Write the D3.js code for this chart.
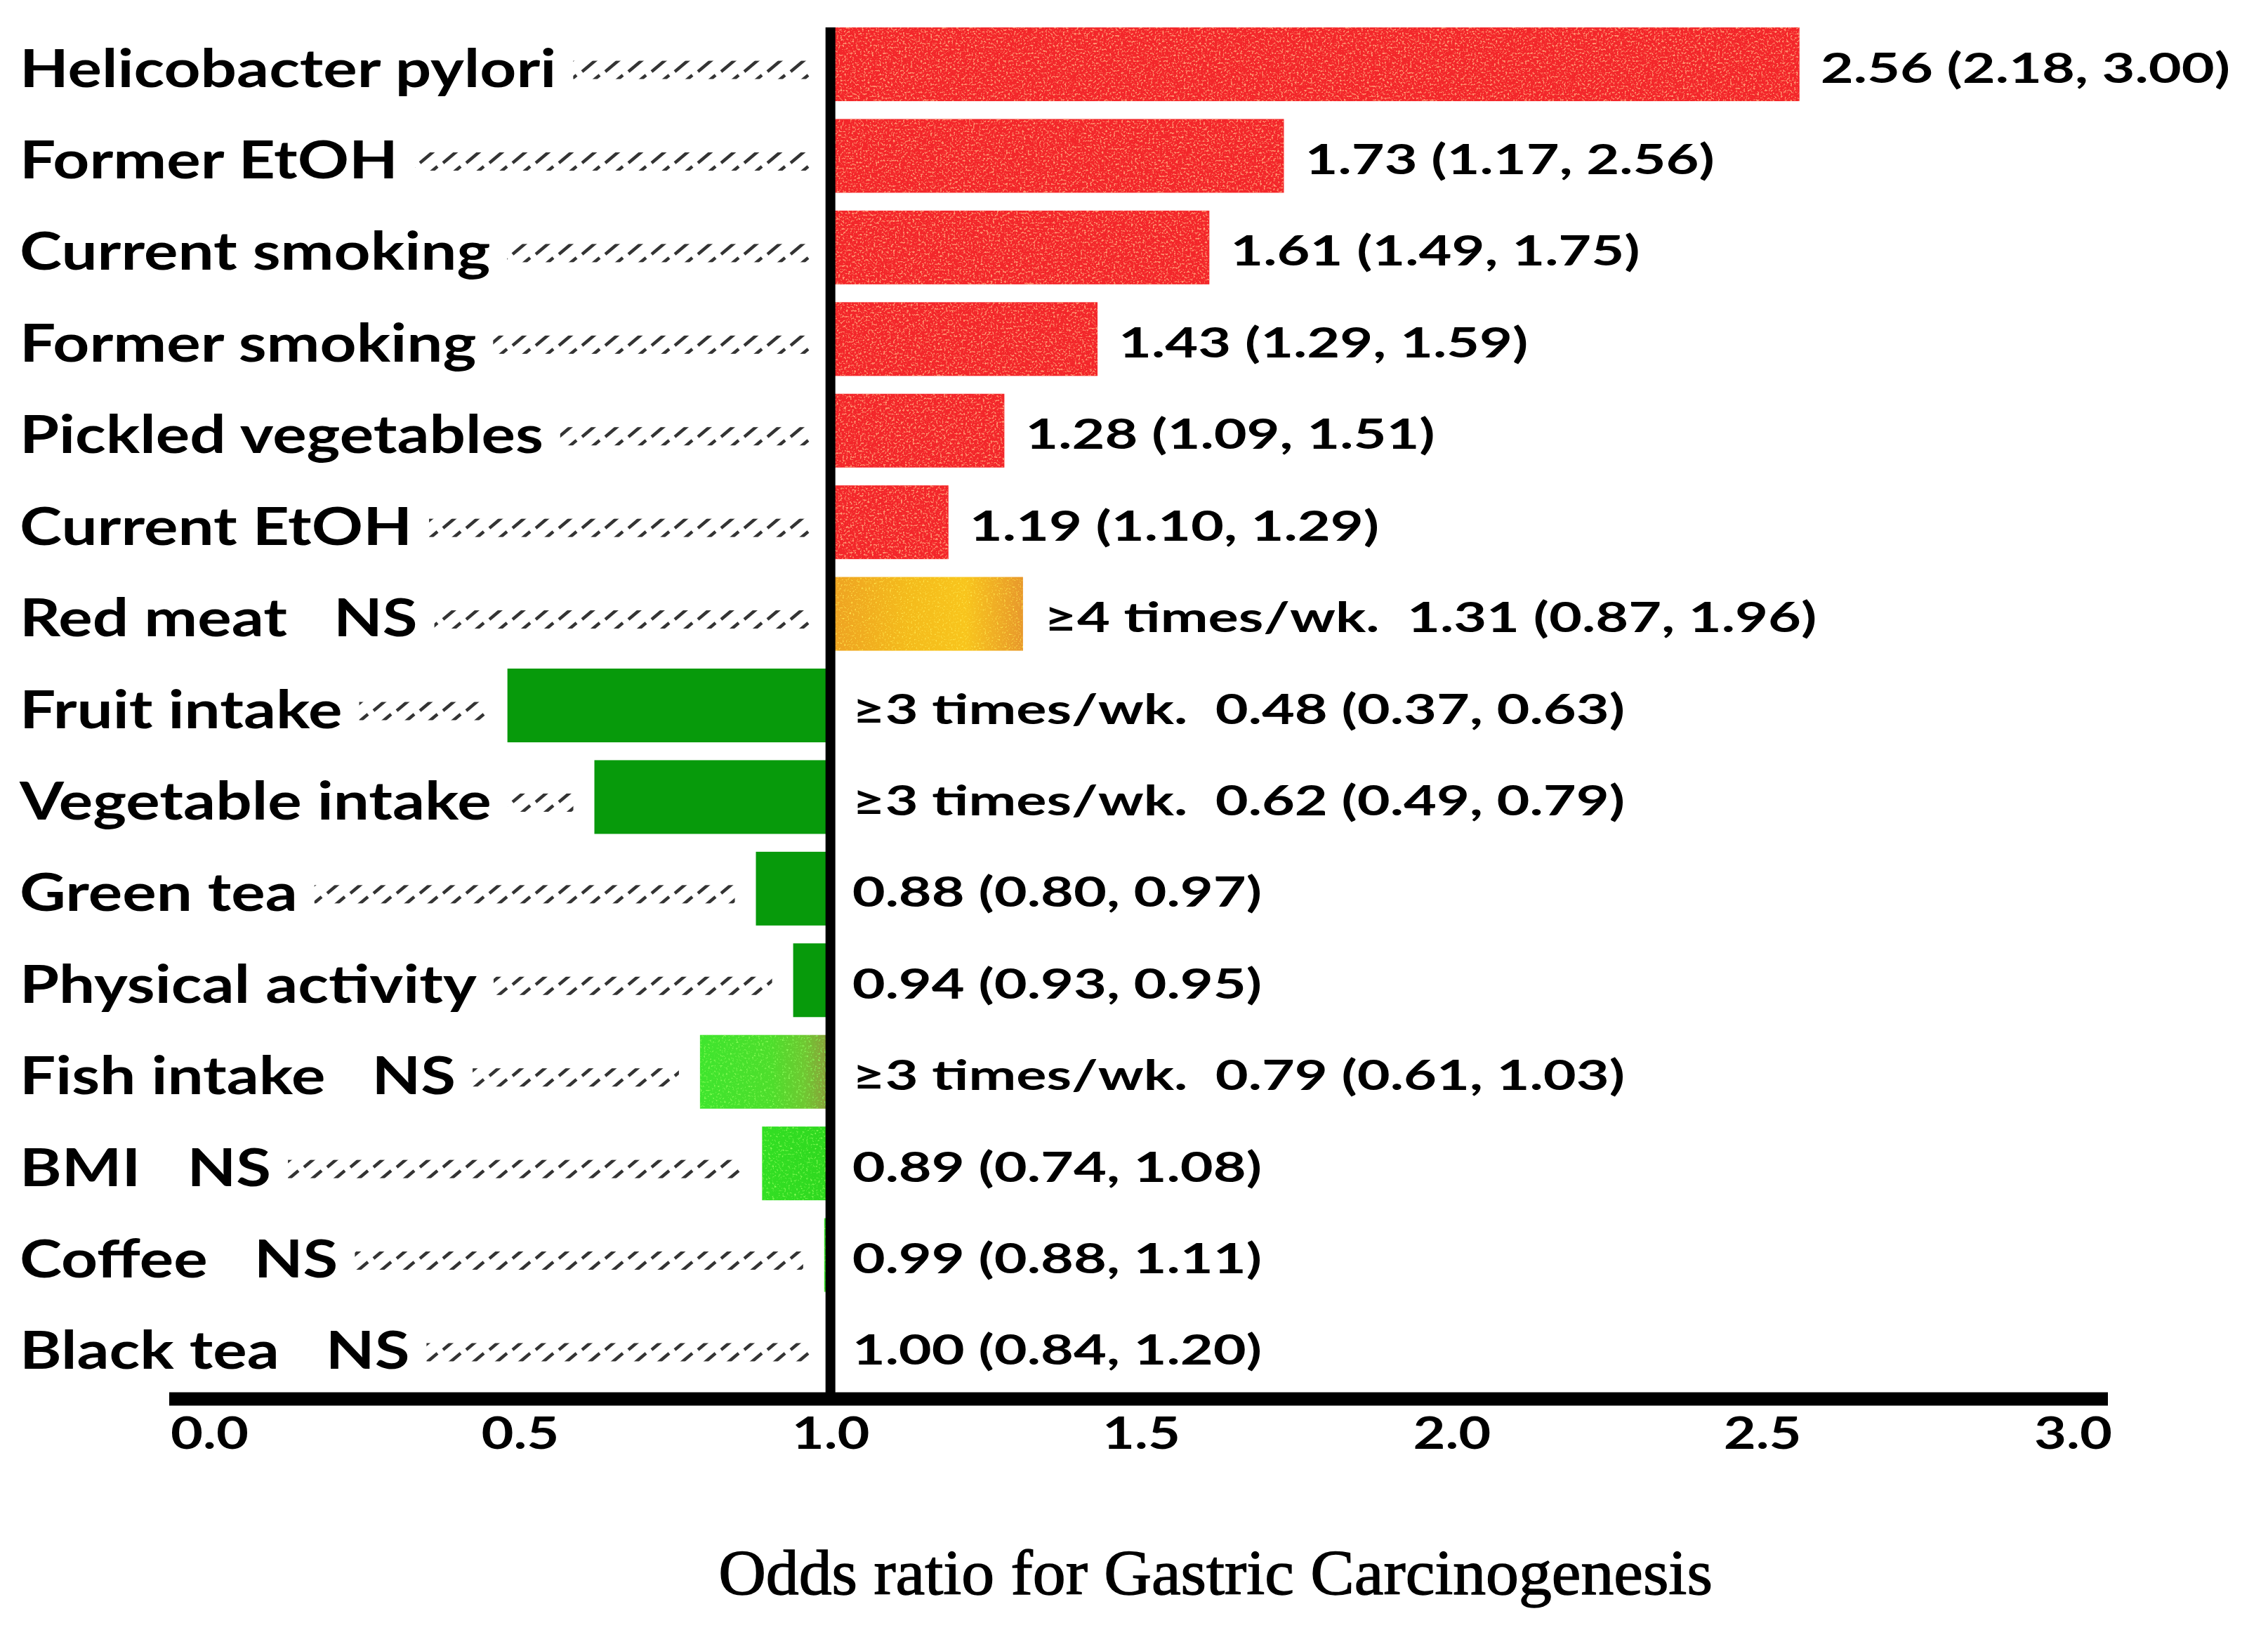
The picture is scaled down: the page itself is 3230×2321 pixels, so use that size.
<!DOCTYPE html>
<html><head><meta charset="utf-8">
<script src="https://cdn.jsdelivr.net/npm/d3@7"></script>
<style>html,body{margin:0;padding:0;background:#fff;} svg{display:block}</style>
</head><body>
<svg id="chart" width="3230" height="2321"></svg>
<script>
const categories = ["Helicobacter pylori","Former EtOH","Current smoking","Former smoking","Pickled vegetables","Current EtOH","Red meat","Fruit intake","Vegetable intake","Green tea","Physical activity","Fish intake","BMI","Coffee","Black tea"];
const nsFlags = [false,false,false,false,false,false,true,false,false,false,false,true,true,true,true];
const oddsRatios = [2.56,1.73,1.61,1.43,1.28,1.19,1.31,0.48,0.62,0.88,0.94,0.79,0.89,0.99,1.00];
const ciLower = [2.18,1.17,1.49,1.29,1.09,1.10,0.87,0.37,0.49,0.80,0.93,0.61,0.74,0.88,0.84];
const ciUpper = [3.00,2.56,1.75,1.59,1.51,1.29,1.96,0.63,0.79,0.97,0.95,1.03,1.08,1.11,1.20];
const exposurePrefix = ["","","","","","","≥4 times/wk.","≥3 times/wk.","≥3 times/wk.","","","≥3 times/wk.","","",""];
const barStyle = ["risk","risk","risk","risk","risk","risk","riskNS","protect","protect","protect","protect","fishNS","protectNS","protectNS","protectNS"];
const xTicks = [0,0.5,1,1.5,2,2.5,3];
const xTitle = "Odds ratio for Gastric Carcinogenesis";

const rows = categories.map((c,i)=>({name:c, ns:nsFlags[i], or:oddsRatios[i], lo:ciLower[i], hi:ciUpper[i], pre:exposurePrefix[i], style:barStyle[i]}));

const svg = d3.select("#chart");
const FONT = "Lato, 'Open Sans', sans-serif";
const SX_CAT = 1.21, SX_VAL = 1.35, SX_TICK = 1.24, SX_TITLE = 1.03;

const x = d3.scaleLinear().domain([0,3]).range([298,2952]);
const y = d3.scaleBand().domain(categories).range([26,1983]).paddingInner(0.195).paddingOuter(0.1);
const axisY = 1992;

const defs = svg.append("defs");
function speckle(id, color, slope, offset, freq, seed){
  const f = defs.append("filter").attr("id",id).attr("x",0).attr("y",0).attr("width",1).attr("height",1)
    .attr("color-interpolation-filters","sRGB");
  f.append("feTurbulence").attr("type","fractalNoise").attr("baseFrequency",freq).attr("numOctaves",2).attr("seed",seed).attr("result","noise");
  f.append("feColorMatrix").attr("in","noise").attr("type","matrix")
    .attr("values",`0 0 0 0 ${color[0]}  0 0 0 0 ${color[1]}  0 0 0 0 ${color[2]}  ${slope} 0 0 0 ${offset}`).attr("result","spots");
  f.append("feComposite").attr("in","spots").attr("in2","SourceGraphic").attr("operator","in").attr("result","spotsIn");
  const m = f.append("feMerge");
  m.append("feMergeNode").attr("in","SourceGraphic");
  m.append("feMergeNode").attr("in","spotsIn");
}
speckle("spRed",[1,0.6,0.45],5,-2.65,0.36,5);
speckle("spGold",[1,0.9,0.3],4,-2.3,0.4,9);
speckle("spGreen",[0.55,1,0.35],4,-2.3,0.35,3);

function hgrad(id, stops){
  const g = defs.append("linearGradient").attr("id",id).attr("x1","0%").attr("x2","100%").attr("y1","0%").attr("y2","0%");
  stops.forEach(s=>g.append("stop").attr("offset",s[0]).attr("stop-color",s[1]));
}
hgrad("gGold",[["0%","#eea223"],["40%","#f4bb1c"],["70%","#f8c51d"],["100%","#e8982c"]]);
hgrad("gFish",[["0%","#3fe52e"],["55%","#4ede2c"],["80%","#6fc832"],["100%","#8f9a3c"]]);
hgrad("gGreenNS",[["0%","#33df24"],["100%","#2fd81f"]]);

const pat = defs.append("pattern").attr("id","hatch").attr("patternUnits","userSpaceOnUse").attr("width",33).attr("height",26);
pat.append("line").attr("x1",4).attr("y1",24).attr("x2",29).attr("y2",3).attr("stroke","#333").attr("stroke-width",4.5);

const styleMap = {
  risk:{fill:"#f3262a", filter:"url(#spRed)"},
  riskNS:{fill:"url(#gGold)", filter:"url(#spGold)"},
  protect:{fill:"#079a0b", filter:null},
  fishNS:{fill:"url(#gFish)", filter:"url(#spGreen)"},
  protectNS:{fill:"url(#gGreenNS)", filter:"url(#spGreen)"}
};

// bars
svg.append("g").selectAll("rect").data(rows).join("rect")
  .attr("x", d=>x(Math.min(1,d.or)))
  .attr("y", d=>y(d.name))
  .attr("width", d=>Math.abs(x(d.or)-x(1)))
  .attr("height", y.bandwidth())
  .attr("fill", d=>styleMap[d.style].fill)
  .attr("filter", d=>styleMap[d.style].filter);

// category labels + hatches
const labG = svg.append("g");
rows.forEach(d=>{
  const base = y(d.name)+y.bandwidth()/2+32;
  const g = labG.append("g").attr("transform",`translate(28,${base}) scale(${SX_CAT},1)`);
  const t = g.append("text").attr("font-family",FONT).attr("font-weight",700).attr("font-size",75).attr("fill","#000");
  t.append("tspan").text(d.name);
  if(d.ns) t.append("tspan").attr("dx",66/SX_CAT).text("NS");
  const bb = t.node().getBBox();
  const w = (bb.x + bb.width)*SX_CAT;
  const hx0 = 28 + w + 24;
  const hx1 = x(Math.min(1,d.or)) - 30;
  if(hx1>hx0){
    labG.append("rect").attr("x",hx0).attr("y",base-37).attr("width",hx1-hx0).attr("height",26).attr("fill","url(#hatch)");
  }
});

// value labels
const valG = svg.append("g");
rows.forEach(d=>{
  const base = y(d.name)+y.bandwidth()/2+26;
  const x0 = d.or>1 ? x(d.or)+30 : x(1)+31;
  const g = valG.append("g").attr("transform",`translate(${x0},${base}) scale(${SX_VAL},1)`);
  const txt = (d.pre? d.pre+"  " : "") + `${d.or.toFixed(2)} (${d.lo.toFixed(2)}, ${d.hi.toFixed(2)})`;
  g.append("text").attr("font-family",FONT).attr("font-weight",700).attr("font-size",60).attr("fill","#000")
    .style("white-space","pre").text(txt);
});

// reference line at OR = 1
svg.append("line").attr("x1",x(1)).attr("x2",x(1)).attr("y1",y(categories[0])).attr("y2",axisY)
  .attr("stroke","#000").attr("stroke-width",14);

// axis
svg.append("line").attr("x1",x(0)-57).attr("x2",x(3)+50).attr("y1",axisY).attr("y2",axisY)
  .attr("stroke","#000").attr("stroke-width",19);
const ax = svg.append("g").attr("transform",`translate(0,2063)`)
  .call(d3.axisBottom(x).tickValues(xTicks).tickFormat(d3.format(".1f")).tickSize(0));
ax.select(".domain").remove();
ax.selectAll("text").attr("y",0).attr("dy",null)
  .attr("font-family",FONT).attr("font-weight",700).attr("font-size",64).attr("fill","#000")
  .attr("transform",`scale(${SX_TICK},1)`);

// title
svg.append("g").attr("transform",`translate(1731,2270) scale(${SX_TITLE},1)`)
  .append("text").attr("text-anchor","middle")
  .attr("font-family","'Liberation Serif', 'Times New Roman', serif").attr("font-size",91)
  .attr("fill","#000").attr("stroke","#000").attr("stroke-width",1.4).text(xTitle);
</script>
</body></html>
